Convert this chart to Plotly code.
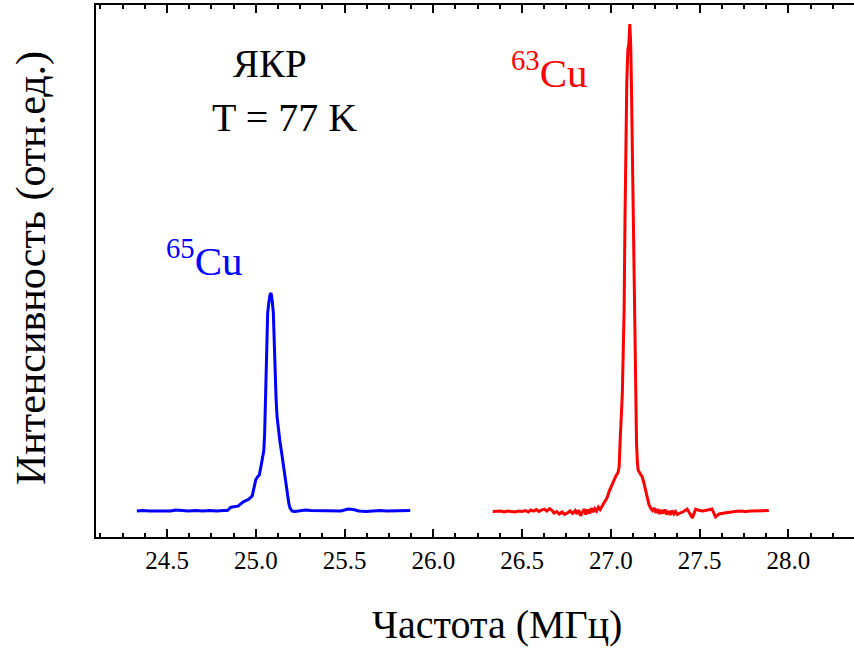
import plotly.graph_objects as go

# 65Cu line (blue)
cu65_freq = [24.33, 24.36, 24.40, 24.44, 24.48, 24.52, 24.55, 24.58, 24.62, 24.66, 24.70, 24.74, 24.78,
             24.82, 24.84, 24.86, 24.88, 24.90, 24.93, 24.96, 24.98, 24.99, 25.00, 25.01, 25.02, 25.03,
             25.037, 25.045, 25.050, 25.056, 25.062, 25.067, 25.074, 25.080, 25.086, 25.092, 25.099,
             25.105, 25.110, 25.114, 25.120, 25.127, 25.136, 25.146, 25.155, 25.165, 25.172, 25.180,
             25.186, 25.193, 25.205, 25.22, 25.25, 25.28, 25.31, 25.34, 25.37, 25.40, 25.44, 25.48,
             25.52, 25.55, 25.58, 25.62, 25.66, 25.70, 25.74, 25.78, 25.82, 25.87]
cu65_int = [0.002, 0.003, 0.002, 0.002, 0.003, 0.002, 0.004, 0.003, 0.002, 0.003, 0.002, 0.003, 0.002,
            0.003, 0.003, 0.010, 0.011, 0.012, 0.021, 0.026, 0.033, 0.050, 0.066, 0.072, 0.076, 0.095,
            0.108, 0.125, 0.160, 0.270, 0.370, 0.408, 0.430, 0.445, 0.449, 0.435, 0.408,
            0.330, 0.270, 0.236, 0.195, 0.168, 0.145, 0.121, 0.097, 0.072, 0.052, 0.031,
            0.018, 0.008, 0.002, 0.001, 0.002, 0.004, 0.003, 0.003, 0.002, 0.003, 0.002, 0.002,
            0.006, 0.005, 0.002, 0.001, 0.002, 0.003, 0.002, 0.002, 0.003, 0.003]

# 63Cu line (red)
cu63_freq = [26.335, 26.36, 26.38, 26.40, 26.42, 26.44, 26.46, 26.48, 26.50, 26.52, 26.535, 26.55, 26.565,
             26.58, 26.595, 26.61, 26.625, 26.64, 26.655, 26.67, 26.68, 26.695, 26.71, 26.725, 26.74,
             26.755, 26.77, 26.785, 26.80, 26.81, 26.82, 26.83, 26.84, 26.85, 26.86, 26.87, 26.88,
             26.89, 26.90, 26.91, 26.92, 26.93, 26.94, 26.95, 26.96, 26.97, 26.98, 26.99, 27.00,
             27.01, 27.02, 27.03, 27.04, 27.047, 27.052, 27.056, 27.060, 27.065, 27.070, 27.075,
             27.080, 27.084, 27.090, 27.096, 27.102, 27.107, 27.112, 27.116, 27.121, 27.126, 27.131,
             27.136, 27.140, 27.145, 27.150, 27.154, 27.160, 27.168, 27.177, 27.186, 27.196, 27.205,
             27.215, 27.225, 27.235, 27.245, 27.255, 27.265, 27.275, 27.285, 27.295, 27.305, 27.315,
             27.325, 27.335, 27.345, 27.355, 27.365, 27.375, 27.39, 27.41, 27.43, 27.46, 27.478,
             27.50, 27.52, 27.54, 27.57, 27.59, 27.61, 27.64, 27.67, 27.70, 27.73, 27.76, 27.79,
             27.82, 27.85, 27.89]
cu63_int = [0.001, 0.001, 0.002, 0.000, 0.002, 0.001, 0.000, 0.002, 0.001, 0.003, 0.000, 0.004, 0.002,
            0.005, 0.001, 0.004, 0.006, 0.002, 0.007, 0.003, -0.002, 0.001, -0.004, 0.000, -0.005,
            -0.002, 0.002, -0.003, 0.003, -0.004, 0.004, -0.008, -0.002, 0.006, -0.005, 0.005, -0.003,
            0.008, 0.000, 0.007, 0.002, 0.010, 0.005, 0.012, 0.018, 0.025, 0.030, 0.042, 0.051,
            0.058, 0.066, 0.075, 0.080, 0.092, 0.140, 0.175, 0.210, 0.244, 0.330, 0.414,
            0.600, 0.755, 0.880, 0.947, 0.960, 1.000, 0.960, 0.880, 0.755, 0.580, 0.414,
            0.300, 0.209, 0.140, 0.100, 0.086, 0.082, 0.078, 0.072, 0.060, 0.045, 0.025,
            0.015, 0.008, 0.003, 0.008, -0.002, 0.006, -0.004, 0.004, -0.003, 0.005, -0.005,
            0.002, -0.006, 0.003, -0.004, 0.001, -0.005, -0.002, 0.001, 0.006, -0.012, 0.006,
            0.003, 0.002, 0.003, 0.006, -0.010, -0.004, -0.002, 0.000, 0.001, 0.002, 0.001, 0.002,
            0.002, 0.003, 0.003]

x_ticks = [24.5, 25.0, 25.5, 26.0, 26.5, 27.0, 27.5, 28.0]
x_ticklabels = ["24.5", "25.0", "25.5", "26.0", "26.5", "27.0", "27.5", "28.0"]

FONT = "Liberation Serif"

fig = go.Figure()
fig.add_trace(go.Scatter(x=cu65_freq, y=cu65_int, mode="lines",
                         line=dict(color="#0000ff", width=3), showlegend=False, hoverinfo="skip"))
fig.add_trace(go.Scatter(x=cu63_freq, y=cu63_int, mode="lines",
                         line=dict(color="#ff0000", width=3), showlegend=False, hoverinfo="skip"))

# plot area in pixels: x 96..854, y 5..537
W, H = 854, 650
L, R, T, B = 96, 0, 5, 113
pw, ph = W - L - R, H - T - B


def px(xp):
    return (xp - L) / pw


def py(yp):
    return (H - B - yp) / ph


annotations = [
    dict(text="ЯКР", x=px(270), y=py(64), font=dict(size=39, color="black", family=FONT)),
    dict(text="T = 77 K", x=px(284.5), y=py(117), font=dict(size=40, color="black", family=FONT)),
    dict(text="<sup>63</sup>Cu", x=px(549), y=py(70), font=dict(size=41, color="#ff0000", family=FONT)),
    dict(text="<sup>65</sup>Cu", x=px(204), y=py(258), font=dict(size=41, color="#0000ff", family=FONT)),
    dict(text="Частота (МГц)", x=px(497), y=py(625), font=dict(size=40, color="black", family=FONT)),
    dict(text="Интенсивность (отн.ед.)", x=px(31), y=py(268), textangle=-90,
         font=dict(size=42, color="black", family=FONT)),
]
for a in annotations:
    a.update(xref="paper", yref="paper", showarrow=False, xanchor="center", yanchor="middle")

fig.update_layout(
    width=W, height=H, autosize=False,
    margin=dict(l=L, r=R, t=T, b=B, pad=0),
    paper_bgcolor="white", plot_bgcolor="white",
    font=dict(family=FONT, color="black"),
    annotations=annotations,
    xaxis=dict(range=[24.1, 28.37], tickmode="array", tickvals=x_ticks, ticktext=x_ticklabels,
               ticks="inside", ticklen=8, tickwidth=2, tickcolor="black",
               showline=True, linewidth=2, linecolor="black", mirror="allticks",
               showgrid=False, zeroline=False,
               tickfont=dict(size=25, family=FONT, color="black"),
               minor=dict(tickmode="linear", tick0=24.0, dtick=0.125, ticks="inside", ticklen=4,
                          tickwidth=2, tickcolor="black", showgrid=False)),
    yaxis=dict(range=[-0.0512, 1.039], showticklabels=False, ticks="",
               showline=True, linewidth=2, linecolor="black", mirror=False,
               showgrid=False, zeroline=False),
)

fig.write_html("out.html", config={"displayModeBar": False},
               post_script="document.body.style.margin='0';document.body.style.overflow='hidden';")
